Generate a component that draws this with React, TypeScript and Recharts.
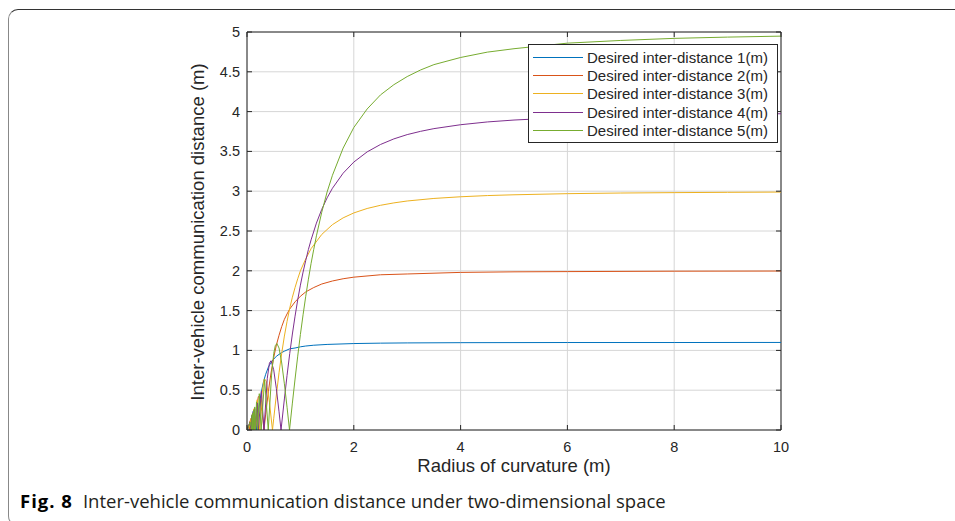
import React from 'react';
import {
  LineChart,
  Line,
  XAxis,
  YAxis,
  CartesianGrid,
  Legend,
  ReferenceLine,
} from 'recharts';

// Radius of curvature (m) and the inter-vehicle communication distance (m)
const radius1 = [0, 0.03, 0.0438, 0.05, 0.058, 0.07, 0.0875, 0.117, 0.15, 0.175, 0.2, 0.22, 0.25, 0.27, 0.3, 0.32, 0.35, 0.4, 0.45, 0.5, 0.55, 0.6, 0.65, 0.7, 0.8, 0.9, 1.0, 1.1, 1.25, 1.5, 2, 2.5, 3, 4, 5, 6, 8, 10];
const dist1 = [0, 0.05, 0, 0.1, 0, 0.14, 0, 0.234, 0.15, 0, 0.15, 0.263, 0.4, 0.483, 0.58, 0.633, 0.7, 0.79, 0.85, 0.89, 0.926, 0.95, 0.973, 0.99, 1.02, 1.03, 1.045, 1.055, 1.065, 1.075, 1.086, 1.091, 1.094, 1.097, 1.098, 1.099, 1.099, 1.1];

const radius2 = [0, 0.03, 0.0455, 0.049, 0.053, 0.058, 0.0637, 0.071, 0.0796, 0.093, 0.106, 0.13, 0.159, 0.19, 0.212, 0.24, 0.28, 0.3, 0.318, 0.35, 0.4, 0.42, 0.45, 0.5, 0.55, 0.6, 0.65, 0.7, 0.75, 0.8, 0.9, 1.0, 1.1, 1.25, 1.4, 1.6, 1.8, 2, 2.5, 3, 4, 5, 6, 8, 10];
const dist2 = [0, 0.06, 0, 0.098, 0, 0.116, 0, 0.14, 0, 0.18, 0, 0.26, 0, 0.32, 0.42, 0.41, 0.23, 0.114, 0, 0.2, 0.48, 0.579, 0.716, 0.91, 1.067, 1.19, 1.299, 1.39, 1.458, 1.52, 1.61, 1.68, 1.735, 1.79, 1.834, 1.872, 1.9, 1.92, 1.95, 1.96, 1.98, 1.987, 1.99, 1.995, 1.997];

const radius3 = [0, 0.04, 0.0682, 0.073, 0.0796, 0.087, 0.0955, 0.105, 0.119, 0.135, 0.159, 0.19, 0.239, 0.28, 0.32, 0.36, 0.42, 0.477, 0.5, 0.55, 0.6, 0.65, 0.7, 0.75, 0.8, 0.85, 0.9, 0.95, 1.0, 1.1, 1.2, 1.4, 1.6, 1.8, 2, 2.25, 2.5, 2.75, 3, 3.5, 4, 4.5, 5, 6, 7, 8, 9, 10];
const dist3 = [0, 0.07, 0, 0.146, 0, 0.17, 0, 0.21, 0, 0.27, 0, 0.38, 0, 0.45, 0.64, 0.62, 0.35, 0, 0.141, 0.44, 0.72, 0.964, 1.18, 1.364, 1.53, 1.668, 1.79, 1.9, 2.0, 2.15, 2.278, 2.457, 2.58, 2.665, 2.727, 2.783, 2.823, 2.853, 2.877, 2.909, 2.93, 2.945, 2.955, 2.969, 2.977, 2.982, 2.986, 2.989];

const radius4 = [0, 0.05, 0.0796, 0.085, 0.091, 0.098, 0.106, 0.116, 0.127, 0.145, 0.159, 0.19, 0.212, 0.27, 0.318, 0.38, 0.42, 0.45, 0.5, 0.55, 0.6, 0.637, 0.7, 0.75, 0.8, 0.85, 0.9, 0.95, 1.0, 1.05, 1.1, 1.15, 1.2, 1.3, 1.4, 1.5, 1.6, 1.8, 2, 2.25, 2.5, 2.75, 3, 3.25, 3.5, 4, 4.5, 5, 6, 7, 8, 9, 10];
const dist4 = [0, 0.09, 0, 0.17, 0, 0.195, 0, 0.23, 0, 0.27, 0, 0.34, 0, 0.49, 0, 0.65, 0.84, 0.87, 0.757, 0.52, 0.229, 0, 0.39, 0.686, 0.96, 1.206, 1.43, 1.635, 1.82, 1.984, 2.13, 2.268, 2.389, 2.599, 2.772, 2.916, 3.037, 3.226, 3.366, 3.494, 3.587, 3.657, 3.711, 3.752, 3.786, 3.835, 3.87, 3.894, 3.927, 3.946, 3.958, 3.967, 3.973];

const radius5 = [0, 0.06, 0.0884, 0.094, 0.0995, 0.106, 0.114, 0.124, 0.133, 0.146, 0.159, 0.178, 0.199, 0.23, 0.265, 0.33, 0.398, 0.46, 0.5, 0.53, 0.56, 0.6, 0.65, 0.7, 0.75, 0.796, 0.85, 0.9, 0.95, 1.0, 1.05, 1.1, 1.15, 1.2, 1.25, 1.3, 1.4, 1.5, 1.6, 1.8, 2, 2.25, 2.5, 2.75, 3, 3.25, 3.5, 4, 4.5, 5, 6, 7, 8, 9, 10];
const dist5 = [0, 0.1, 0, 0.19, 0, 0.21, 0, 0.25, 0, 0.29, 0, 0.354, 0, 0.456, 0, 0.635, 0, 0.69, 0.959, 1.06, 1.086, 1.03, 0.842, 0.58, 0.286, 0, 0.338, 0.64, 0.928, 1.2, 1.447, 1.68, 1.895, 2.093, 2.27, 2.439, 2.736, 2.99, 3.2, 3.541, 3.8, 4.033, 4.21, 4.338, 4.44, 4.523, 4.59, 4.68, 4.747, 4.79, 4.86, 4.894, 4.92, 4.936, 4.948];

const seriesNames = [
  'Desired inter-distance 1(m)',
  'Desired inter-distance 2(m)',
  'Desired inter-distance 3(m)',
  'Desired inter-distance 4(m)',
  'Desired inter-distance 5(m)',
];
const seriesColors = ['#0072BD', '#D95319', '#EDB120', '#7E2F8E', '#77AC30'];

const xTicks = [0, 2, 4, 6, 8, 10];
const yTicks = [0, 0.5, 1, 1.5, 2, 2.5, 3, 3.5, 4, 4.5, 5];

const series = [
  { r: radius1, d: dist1 },
  { r: radius2, d: dist2 },
  { r: radius3, d: dist3 },
  { r: radius4, d: dist4 },
  { r: radius5, d: dist5 },
].map((s, i) => ({
  name: seriesNames[i],
  color: seriesColors[i],
  data: s.r.map((r, j) => ({ r, d: s.d[j] })),
}));

// plot box (matches the MATLAB axes)
const PLOT_LEFT = 247;
const PLOT_TOP = 32;
const PLOT_RIGHT = 781;
const PLOT_BOTTOM = 430;
const W = 955;
const H = 521;
const AXIS = '#262626';
const FONT = '"Liberation Sans", Arial, sans-serif';

const XTick = (props: any) => {
  const { x, payload } = props;
  return (
    <g>
      <line x1={x} y1={PLOT_BOTTOM} x2={x} y2={PLOT_BOTTOM - 5} stroke={AXIS} />
      <line x1={x} y1={PLOT_TOP} x2={x} y2={PLOT_TOP + 5} stroke={AXIS} />
      <text x={x} y={452} textAnchor="middle" fontSize={14.5} fill={AXIS} fontFamily={FONT}>
        {payload.value}
      </text>
    </g>
  );
};

const YTick = (props: any) => {
  const { y, payload } = props;
  return (
    <g>
      <line x1={PLOT_LEFT} y1={y} x2={PLOT_LEFT + 5} y2={y} stroke={AXIS} />
      <line x1={PLOT_RIGHT} y1={y} x2={PLOT_RIGHT - 5} y2={y} stroke={AXIS} />
      <text x={240} y={y + 5} textAnchor="end" fontSize={14.5} fill={AXIS} fontFamily={FONT}>
        {payload.value}
      </text>
    </g>
  );
};

const renderLegend = (props: any) => {
  const { payload } = props;
  return (
    <div
      style={{
        width: 248,
        border: `1px solid ${AXIS}`,
        background: '#fff',
        padding: '3px 0 3px 0',
        fontFamily: FONT,
        fontSize: 15,
        color: AXIS,
      }}
    >
      {payload.map((entry: any) => (
        <div key={entry.value} style={{ display: 'flex', alignItems: 'center', height: 18.3 }}>
          <div style={{ width: 50, height: 1, background: entry.color, marginLeft: 4, marginRight: 4 }} />
          <span>{entry.value}</span>
        </div>
      ))}
    </div>
  );
};

const App: React.FC = () => {
  return (
    <div
      style={{
        position: 'absolute',
        left: 0,
        top: 0,
        width: W,
        height: H,
        overflow: 'hidden',
        background: '#fff',
      }}
    >
      {/* figure frame */}
      <div
        style={{
          position: 'absolute',
          left: 8,
          top: 9,
          width: 1000,
          height: 515,
          borderTop: '1px solid #333',
          borderLeft: '1px solid #888',
          borderBottom: '1px solid #888',
          borderRadius: '10px 0 0 10px',
        }}
      />
      <div style={{ position: 'absolute', left: 0, top: 0 }}>
        <LineChart
          width={W}
          height={H}
          margin={{ top: PLOT_TOP, right: W - PLOT_RIGHT, bottom: 0, left: 0 }}
        >
          <CartesianGrid stroke="#d6d6d6" />
          <XAxis
            dataKey="r"
            type="number"
            domain={[0, 10]}
            ticks={xTicks}
            allowDataOverflow
            height={H - PLOT_BOTTOM}
            axisLine={{ stroke: AXIS }}
            tickLine={false}
            tick={<XTick />}
            label={{
              value: 'Radius of curvature (m)',
              content: () => (
                <text x={(PLOT_LEFT + PLOT_RIGHT) / 2} y={472} textAnchor="middle" fontSize={18.5} fill={AXIS} fontFamily={FONT}>
                  Radius of curvature (m)
                </text>
              ),
            }}
          />
          <YAxis
            type="number"
            domain={[0, 5]}
            ticks={yTicks}
            allowDataOverflow
            width={PLOT_LEFT}
            axisLine={{ stroke: AXIS }}
            tickLine={false}
            tick={<YTick />}
            label={{
              value: 'Inter-vehicle communication distance (m)',
              content: () => (
                <text
                  x={204}
                  y={232}
                  transform="rotate(-90 204 232)"
                  textAnchor="middle"
                  fontSize={18.5}
                  fill={AXIS}
                  fontFamily={FONT}
                >
                  Inter-vehicle communication distance (m)
                </text>
              ),
            }}
          />
          <ReferenceLine y={5} stroke={AXIS} />
          <ReferenceLine x={10} stroke={AXIS} />
          {series.map((s) => (
            <Line
              key={s.name}
              data={s.data}
              dataKey="d"
              name={s.name}
              stroke={s.color}
              strokeWidth={1}
              dot={false}
              type="linear"
              isAnimationActive={false}
            />
          ))}
          <Legend
            layout="vertical"
            align="center"
            verticalAlign="middle"
            content={renderLegend}
            wrapperStyle={{ left: 528, top: 44, width: 250 }}
          />
        </LineChart>
      </div>
      {/* caption */}
      <div
        style={{
          position: 'absolute',
          left: 20,
          top: 488,
          fontFamily: '"Open Sans", "Noto Sans", sans-serif',
          fontSize: 18.5,
          color: '#231f20',
          whiteSpace: 'nowrap',
        }}
      >
        <b style={{ color: '#000', letterSpacing: 1 }}>Fig. 8</b>
        <span style={{ marginLeft: 10 }}>Inter-vehicle communication distance under two-dimensional space</span>
      </div>
    </div>
  );
};

export default App;
